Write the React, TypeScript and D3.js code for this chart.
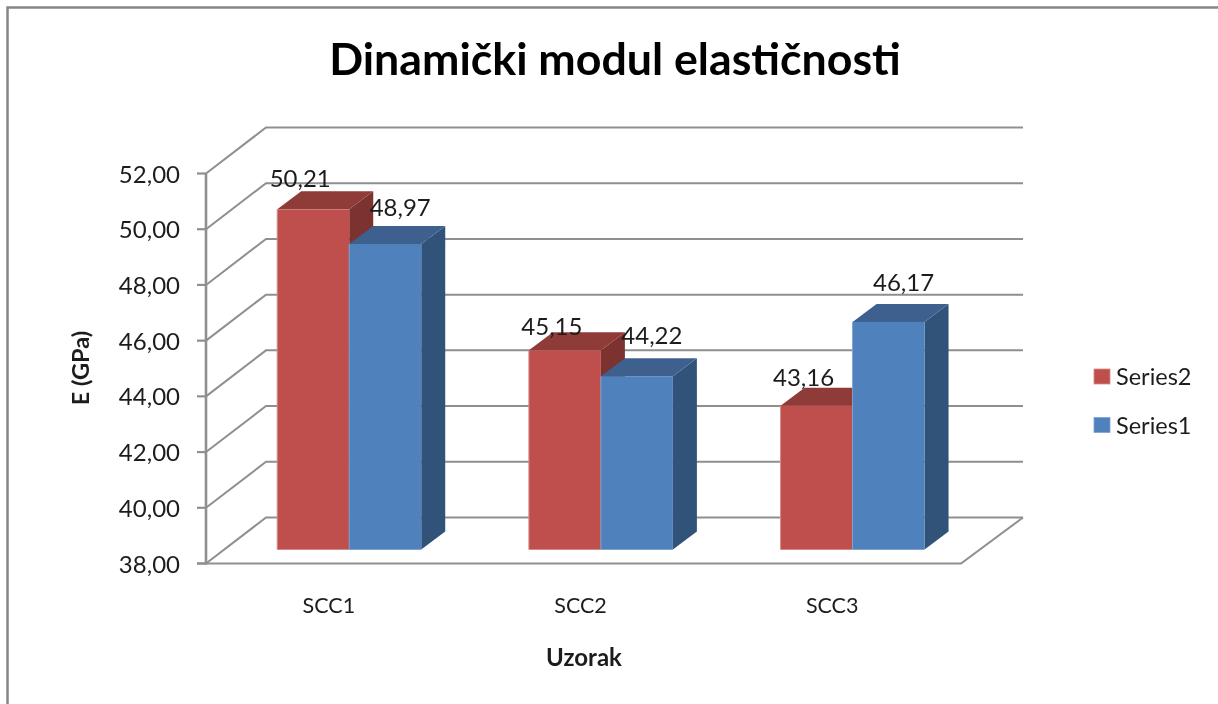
import React from "react";
import * as d3 from "d3";

const categories = ["SCC1", "SCC2", "SCC3"];
const seriesNames = ["Series2", "Series1"];
const series2 = [50.21, 45.15, 43.16];
const series1 = [48.97, 44.22, 46.17];
const yTicks = [38, 40, 42, 44, 46, 48, 50, 52];

const FONT = "Lato, 'Open Sans', sans-serif";
const GRID = "#8f8f8f";
const TEXT = "#1c1c1c";
const palette = [
  { front: "#be504d", top: "#8f3a37", side: "#7c302e", edge: "#d58a88" },
  { front: "#4f81bd", top: "#3d618e", side: "#325379", edge: "#7fa3cf" },
];

// manual data-label nudges, as placed in the source chart
const labelDx = [-13, 15];
const labelDy = [
  [-22, -28],
  [-15, -32],
  [-20, -31],
];

const fmt = (v: number) => v.toFixed(2).replace(".", ",");

export default function App() {
  const x0 = d3.scaleBand<string>().domain(categories).range([206, 961]);
  const y = d3.scaleLinear().domain([38, 52]).range([563.5, 173.5]);
  const wallDx = 60;
  const wallDy = 46;
  const wallRight = 1023;
  const barW = 72;
  const inDx = 17.4;
  const inDy = 14;
  const depthX = 24;
  const depthY = 18;
  const values = [series2, series1];
  const pts = (a: number[][]) => a.map((p) => p.join(",")).join(" ");

  return (
    <svg
      width={1218}
      height={704}
      style={{ position: "absolute", left: 0, top: 0, background: "#fff" }}
      fontFamily={FONT}
    >
      <defs>
        <filter id="soft" x="-2%" y="-2%" width="104%" height="104%">
          <feGaussianBlur stdDeviation="0.45" />
        </filter>
      </defs>
      <g filter="url(#soft)">
        <path d="M7.5,704V7.5H1218" fill="none" stroke="#868686" strokeWidth={2.5} />

        <text x={615} y={75} textAnchor="middle" fontSize={44.7} fontWeight={700} fill="#000">
          Dinamički modul elastičnosti
        </text>

        {yTicks.map((t) => {
          const yy = y(t);
          return (
            <g key={t}>
              <line x1={197} x2={206} y1={yy} y2={yy} stroke={GRID} strokeWidth={2.2} />
              <path
                d={`M206,${yy}L${206 + wallDx},${yy - wallDy}H${wallRight}`}
                fill="none"
                stroke={GRID}
                strokeWidth={2}
              />
              <text x={180} y={yy + 9} textAnchor="end" fontSize={24} fill={TEXT}>
                {fmt(t)}
              </text>
            </g>
          );
        })}
        <line x1={206} x2={206} y1={y(52)} y2={y(38) + 1} stroke={GRID} strokeWidth={2.6} />
        <path
          d={`M197,${y(38)}H961L${wallRight},${y(38) - wallDy}`}
          fill="none"
          stroke={GRID}
          strokeWidth={2}
        />

        {categories.map((c, i) => {
          const cx = x0(c)! + x0.bandwidth() / 2 + inDx;
          return (
            <g key={c}>
              {values.map((vals, s) => {
                const l = cx - barW + s * barW;
                const r = l + barW;
                const t = y(vals[i]) - inDy;
                const b = y(38) - inDy;
                const col = palette[s];
                return (
                  <g key={s}>
                    <polygon
                      points={pts([[r, t], [r + depthX, t - depthY], [r + depthX, b - depthY], [r, b]])}
                      fill={col.side}
                    />
                    <polygon
                      points={pts([[l, t], [l + depthX, t - depthY], [r + depthX, t - depthY], [r, t]])}
                      fill={col.top}
                    />
                    <rect x={l} y={t} width={barW} height={b - t} fill={col.front} />
                    <path d={`M${r},${b}H${l}V${t}`} fill="none" stroke={col.edge} strokeWidth={1} />
                  </g>
                );
              })}
            </g>
          );
        })}

        {categories.map((c, i) => {
          const cx = x0(c)! + x0.bandwidth() / 2 + inDx;
          return (
            <g key={c}>
              {values.map((vals, s) => (
                <text
                  key={s}
                  x={cx - barW / 2 + s * barW + labelDx[s]}
                  y={y(vals[i]) - inDy + labelDy[i][s]}
                  textAnchor="middle"
                  fontSize={24}
                  fill={TEXT}
                >
                  {fmt(vals[i])}
                </text>
              ))}
              <text x={x0(c)! + x0.bandwidth() / 2 - 3} y={613} textAnchor="middle" fontSize={21.5} fill={TEXT}>
                {c}
              </text>
            </g>
          );
        })}

        <text x={584} y={666} textAnchor="middle" fontSize={24} fontWeight={700} fill={TEXT}>
          Uzorak
        </text>
        <text
          transform="translate(89,368) rotate(-90)"
          textAnchor="middle"
          fontSize={23.5}
          fontWeight={700}
          fill={TEXT}
        >
          E (GPa)
        </text>

        {seriesNames.map((n, s) => {
          const ly = 369 + s * 48.5;
          return (
            <g key={n}>
              <rect x={1094} y={ly} width={16} height={15} fill={palette[s].front} stroke={palette[s].edge} strokeWidth={0.8} />
              <text x={1116} y={ly + 16} fontSize={23.5} fill={TEXT}>
                {n}
              </text>
            </g>
          );
        })}
      </g>
    </svg>
  );
}
